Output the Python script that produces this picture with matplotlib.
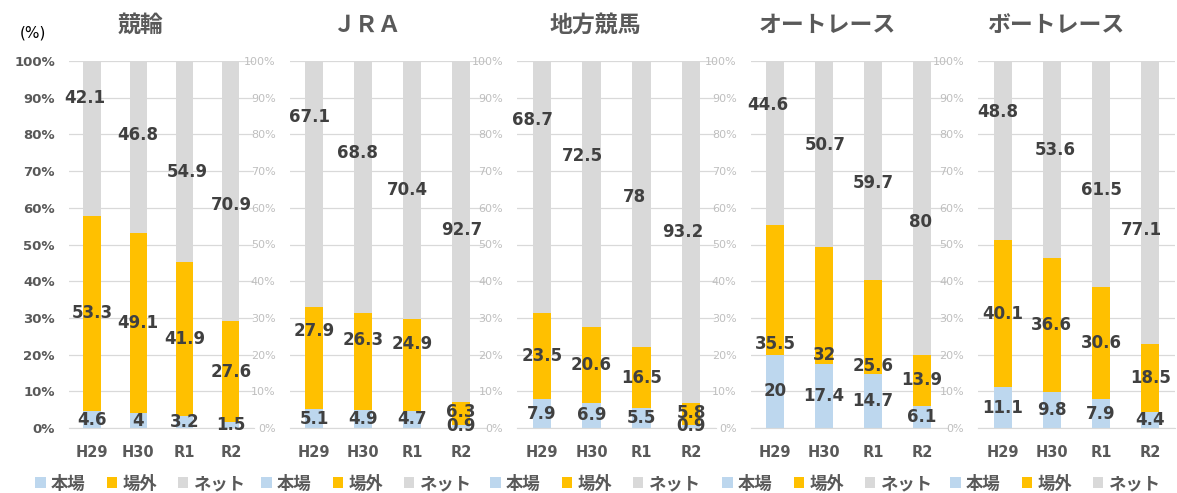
import numpy as np
import matplotlib
matplotlib.use("Agg")
import matplotlib.pyplot as plt
from matplotlib.patches import Patch

plt.rcParams["font.family"] = ["DejaVu Sans", "Noto Sans CJK JP"]

titles = ["競輪", "ＪＲＡ", "地方競馬", "オートレース", "ボートレース"]
years = ["H29", "H30", "R1", "R2"]
series = ["本場", "場外", "ネット"]

honjo = [[4.6, 4, 3.2, 1.5],
         [5.1, 4.9, 4.7, 0.9],
         [7.9, 6.9, 5.5, 0.9],
         [20, 17.4, 14.7, 6.1],
         [11.1, 9.8, 7.9, 4.4]]
jogai = [[53.3, 49.1, 41.9, 27.6],
         [27.9, 26.3, 24.9, 6.3],
         [23.5, 20.6, 16.5, 5.8],
         [35.5, 32, 25.6, 13.9],
         [40.1, 36.6, 30.6, 18.5]]
net = [[42.1, 46.8, 54.9, 70.9],
       [67.1, 68.8, 70.4, 92.7],
       [68.7, 72.5, 78, 93.2],
       [44.6, 50.7, 59.7, 80],
       [48.8, 53.6, 61.5, 77.1]]

# label heights (%) as placed in the original chart
net_label_y = [[89.9, 79.8, 69.8, 60.8],
               [84.7, 74.9, 64.9, 54.0],
               [83.9, 74.1, 62.9, 53.4],
               [88.0, 77.1, 66.8, 56.1],
               [86.1, 75.7, 64.9, 54.0]]
# small horizontal shifts of those labels, in pixels
net_label_dx = [[-7, 0, 3, 1],
                [-5, -6, -5, 1],
                [-9, -9, -7, -8],
                [-7, 1, 0, -2],
                [-5, 3, 0, -9]]
jogai_label_y = [None,
                 [26.4, 24.0, 23.0, 4.4],
                 [None, None, None, 4.2],
                 [23.0, 20.0, 17.0, None],
                 None]

colors = ["#BDD7EE", "#FFC000", "#D9D9D9"]
W, H = 1177, 493
# plot areas in pixels (left, right)
areas = [(68.8, 254), (289.5, 485.5), (517, 716), (750.5, 946.5), (978, 1175)]
y0, y1 = 428, 61

fig = plt.figure(figsize=(W / 100, H / 100), dpi=100)

x = np.arange(len(years))
for i, t in enumerate(titles):
    l, r = areas[i]
    ax = fig.add_axes([l / W, (H - y0) / H, (r - l) / W, (y0 - y1) / H])
    ax.patch.set_visible(False)
    step = (r - l) / 4
    h = np.array(honjo[i], float)
    j = np.array(jogai[i], float)
    n = np.array(net[i], float)
    tot = (h + j + n) / 100
    h, j, n = h / tot, j / tot, n / tot
    ax.bar(x, h, 0.37, color=colors[0], zorder=2)
    ax.bar(x, j, 0.37, bottom=h, color=colors[1], zorder=2)
    ax.bar(x, n, 0.37, bottom=h + j, color=colors[2], zorder=2)
    for k in range(len(years)):
        yh = min(h[k] / 2, 1.2) if h[k] < 2 else h[k] / 2
        ax.text(x[k], yh, f"{honjo[i][k]:g}", ha="center", va="center",
                fontsize=12, fontweight="bold", color="#404040", zorder=3)
        yj = h[k] + j[k] / 2
        if jogai_label_y[i] is not None and jogai_label_y[i][k] is not None:
            yj = jogai_label_y[i][k]
        ax.text(x[k], yj, f"{jogai[i][k]:g}", ha="center", va="center",
                fontsize=12, fontweight="bold", color="#404040", zorder=3)
        ax.text(x[k] + net_label_dx[i][k] / step, net_label_y[i][k], f"{net[i][k]:g}",
                ha="center", va="center",
                fontsize=12, fontweight="bold", color="#404040", zorder=3)
    ax.set_xlim(-0.5, 3.5)
    ax.set_ylim(0, 100)
    ax.set_yticks(np.arange(0, 101, 10))
    ax.set_yticklabels([f"{v}%" for v in range(0, 101, 10)])
    ax.set_xticks(x)
    ax.set_xticklabels(years, fontsize=10.5, fontweight="bold", color="#595959")
    ax.tick_params(axis="x", length=0, pad=12)
    if i == 0:
        ax.tick_params(axis="y", length=0, pad=10, labelsize=9.5, labelcolor="#595959")
        for lb in ax.get_yticklabels():
            lb.set_fontweight("bold")
    else:
        ax.tick_params(axis="y", length=0, pad=10, labelsize=8, labelcolor="#BFBFBF")
    ax.grid(axis="y", color="#D9D9D9", linewidth=0.9, zorder=0)
    for s in ["top", "right", "left"]:
        ax.spines[s].set_visible(False)
    ax.spines["bottom"].set_color("#D9D9D9")
    cx = (l + r) / 2 - 21
    fig.text(cx / W, (H - 25) / H, t, ha="center", va="center", fontsize=16.5,
             fontweight="bold", color="#595959")
    handles = [Patch(facecolor=c, edgecolor="none") for c in colors]
    fig.legend(handles, series, loc="center", bbox_to_anchor=(cx / W, (H - 484) / H),
               ncol=3, frameon=False, handlelength=0.6, handleheight=0.6,
               handletextpad=0.3, columnspacing=1.2,
               prop={"size": 12.5, "weight": "bold"}, labelcolor="#595959")

fig.text(20 / W, (H - 33) / H, "(%)", ha="left", va="center", fontsize=11, color="#000000")

fig.savefig("out.png", dpi=100)
